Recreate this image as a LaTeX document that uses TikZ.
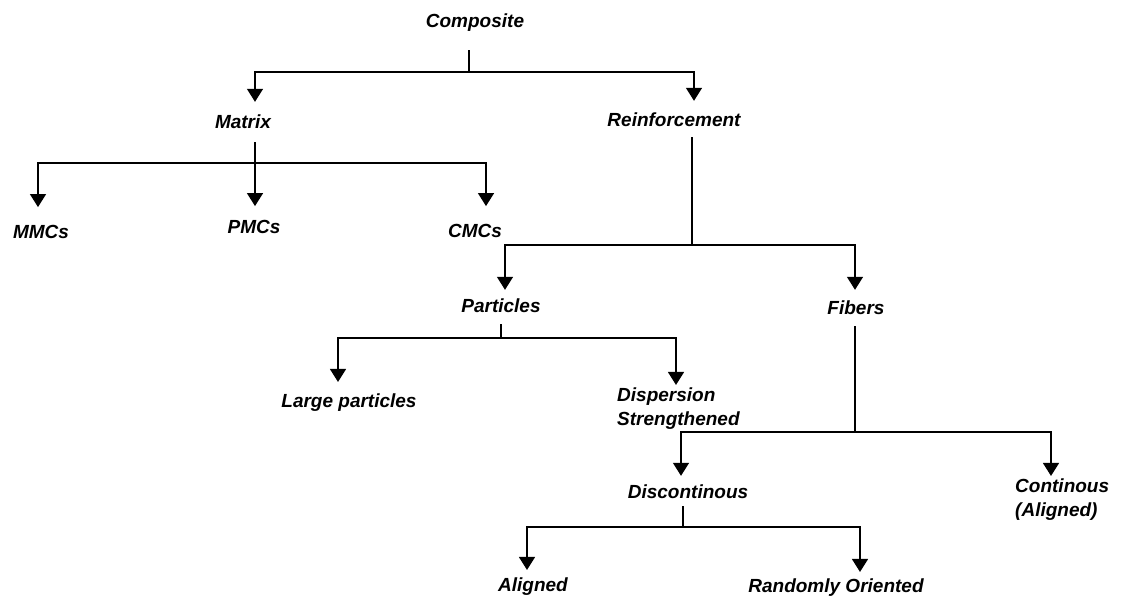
\documentclass[tikz,border=0pt]{standalone}
\usepackage{fontspec}
\setmainfont{Liberation Sans}
\usetikzlibrary{arrows.meta}

\begin{document}
\begin{tikzpicture}[x=1pt,y=-1pt]

    \tikzset{lbl/.style={font=\bfseries\itshape\fontsize{19}{24}\selectfont,inner sep=1pt},
             lblleft/.style={lbl,align=left,anchor=west},
             arr/.style={-{Triangle[width=16pt,length=13pt]},line width=1.4pt,shorten >=6pt},
             stem/.style={line width=1.4pt}}
    \useasboundingbox (0,0) rectangle (1128,599);

    \node[lbl] (comp) at (475,23) {Composite};

    \node[lbl] (matrix) at (243,122) {Matrix};
    \node[lbl] (reinf) at (674,120) {Reinforcement};

    \node[lbl] (mmc) at (41,232) {MMCs};
    \node[lbl] (pmc) at (254,227) {PMCs};
    \node[lbl] (cmc) at (475,231) {CMCs};

    \node[lbl] (part) at (501,306) {Particles};
    \node[lbl] (fib) at (856,308) {Fibers};

    \node[lbl] (large) at (349,403) {Large particles};
    \node[lblleft] (disp) at (616,409) {Dispersion\\Strengthened};

    \node[lbl] (disc) at (688,492) {Discontinous};
    \node[lblleft] (cont) at (1014,500) {Continous\\(Aligned)};

    \node[lbl] (algn) at (533,587) {Aligned};
    \node[lbl] (rand) at (836,588) {Randomly Oriented};

    % Puntos de union.
    \coordinate (c0) at (469,72);
    \coordinate (c1) at (255,163);
    \coordinate (c2) at (692,245);
    \coordinate (c3) at (501,338);
    \coordinate (c4) at (855,432);
    \coordinate (c5) at (683,527);

    \draw[stem,shorten <=17pt] (comp.south -| c0) -- (c0);
    \draw[arr,shorten >=12pt] (c0) -| ([xshift=12pt]matrix.north);
    \draw[arr,shorten >=11pt] (c0) -| ([xshift=20pt]reinf.north);

    \draw[stem,shorten <=12pt] (matrix.south -| c1) -- (c1);
    \draw[arr,shorten >=17pt] (c1) -| ([xshift=-3pt]mmc.north);
    \draw[arr,shorten >=13pt] (c1) -- (c1 |- pmc.north);
    \draw[arr,shorten >=17pt] (c1) -| ([xshift=11pt]cmc.north);

    \draw[stem,shorten <=9pt] (reinf.south -| c2) -- (c2);
    \draw[arr,shorten >=8pt] (c2) -| ([xshift=4pt]part.north);
    \draw[arr,shorten >=10pt] (c2) -| ([xshift=-1pt]fib.north);

    \draw[stem,shorten <=10pt] (part.south -| c3) -- (c3);
    \draw[arr,shorten >=11pt] (c3) -| ([xshift=-11pt]large.north);
    \draw[arr,shorten >=2pt] (c3) -| ([xshift=60pt]disp.north west);

    \draw[stem,shorten <=10pt] (fib.south -| c4) -- (c4);
    \draw[arr,shorten >=8pt] (c4) -| ([xshift=-7pt]disc.north);
    \draw[arr,shorten >=2pt] (c4) -| ([xshift=37pt]cont.north west);

    \draw[stem,shorten <=6pt] (disc.south -| c5) -- (c5);
    \draw[arr,shorten >=7pt] (c5) -| ([xshift=-6pt]algn.north);
    \draw[arr,shorten >=6pt] (c5) -| ([xshift=24pt]rand.north);

\end{tikzpicture}
\end{document}
